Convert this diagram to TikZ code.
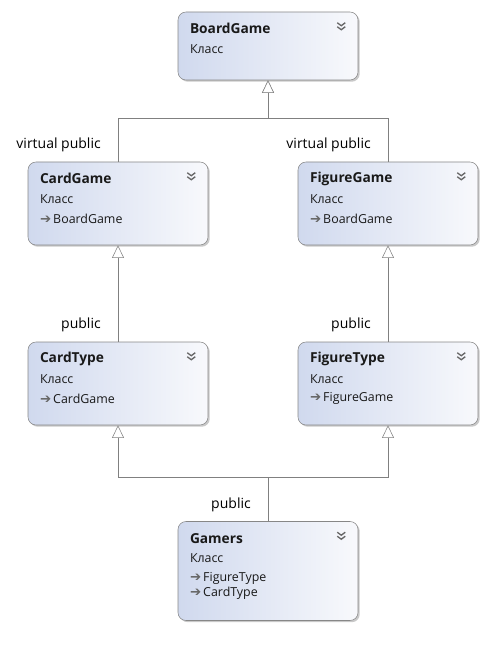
\documentclass[tikz,border=0pt]{standalone}
\usepackage{fontspec}
\setmainfont{Open Sans}
\newfontfamily\symfont{DejaVu Sans}
\usepackage{tikz}
\usetikzlibrary{arrows.meta,calc,shadows}
\definecolor{boxleft}{RGB}{208,217,238}
\definecolor{boxright}{RGB}{248,249,252}
\definecolor{boxline}{RGB}{135,135,135}
\definecolor{boxtext}{RGB}{25,25,25}
\tikzset{
  classbox/.style={draw=boxline, rounded corners=6pt, left color=boxleft, right color=boxright,
    minimum width=135pt, inner sep=0pt,
    drop shadow={shadow xshift=1.3pt, shadow yshift=-1.3pt, opacity=0.3, fill=black!70}},
  classtitle/.style={anchor=west, inner sep=0pt, font=\fontsize{10.3}{12}\selectfont\bfseries, text=boxtext},
  classkind/.style={anchor=west, inner sep=0pt, font=\fontsize{9.3}{11}\selectfont, text=boxtext},
  classbase/.style={classkind},
  inherit/.style={draw=black!50, -{Triangle[open, length=9.5pt, width=9pt, fill=white]}},
  relabel/.style={anchor=east, inner sep=0pt, font=\fontsize{10.5}{12}\selectfont},
  chevron/.style={draw=black!60, line width=1pt},
}
\newcommand{\baseicon}{{\symfont\fontsize{10}{10}\selectfont\textcolor{black!60}{➔}}\,}
\newcommand{\expander}[1]{%
  \draw[chevron] ($(#1.north east)+(-21,11)$) -- ++(4,3) -- ++(4,-3);
  \draw[chevron] ($(#1.north east)+(-21,15)$) -- ++(4,3) -- ++(4,-3);
}

\begin{document}
\begin{tikzpicture}[x=0.75pt, y=-0.75pt]
  \useasboundingbox (0,0) rectangle (490,652);
  % Klassen
  \foreach \n/\t/\x/\y/\h in {boardgame/BoardGame/268/46/51, cardgame/CardGame/118/203.5/62.25,
      figuregame/FigureGame/388/203.5/62.25, cardtype/CardType/118/383.5/62.25,
      figuretype/FigureType/388/383.5/62.25, gamers/Gamers/268/571/74.25} {
    \node[classbox, minimum height=\h pt] (\n) at (\x,\y) {};
    \node[classtitle] (\n-title) at ($(\n.north west)+(12,17)$) {\t};
    \node[classkind] (\n-kind) at ($(\n.north west)+(12,37)$) {Класс};
    \expander{\n}
  }
  % Basisklassen
  \node[classbase] (cardgame-base) at ($(cardgame.north west)+(12,57)$) {\baseicon BoardGame};
  \node[classbase] (figuregame-base) at ($(figuregame.north west)+(12,57)$) {\baseicon BoardGame};
  \node[classbase] (cardtype-base) at ($(cardtype.north west)+(12,57)$) {\baseicon CardGame};
  \node[classbase] (figuretype-base) at ($(figuretype.north west)+(12,57)$) {\baseicon FigureGame};
  \node[classbase] (gamers-base1) at ($(gamers.north west)+(12,57)$) {\baseicon FigureType};
  \node[classbase] (gamers-base2) at ($(gamers.north west)+(12,72)$) {\baseicon CardType};
  % Vererbung
  \coordinate (topjoin) at (268,118);
  \coordinate (bottomjoin) at (268,477);
  \draw[inherit] (cardgame.north) |- (topjoin) -- (boardgame.south);
  \draw[inherit] (figuregame.north) |- (topjoin) -- (boardgame.south);
  \draw[inherit] (cardtype.north) -- (cardgame.south);
  \draw[inherit] (figuretype.north) -- (figuregame.south);
  \draw[inherit] (gamers.north) -- (bottomjoin) -| (cardtype.south);
  \draw[inherit] (gamers.north) -- (bottomjoin) -| (figuretype.south);
  % Zugriff
  \node[relabel] (cardgame-label) at (101,144.5) {virtual public};
  \node[relabel] (figuregame-label) at (371,144.5) {virtual public};
  \node[relabel] (cardtype-label) at (101,324.5) {public};
  \node[relabel] (figuretype-label) at (371,324.5) {public};
  \node[relabel] (gamers-label) at (251,504.5) {public};
\end{tikzpicture}
\end{document}
